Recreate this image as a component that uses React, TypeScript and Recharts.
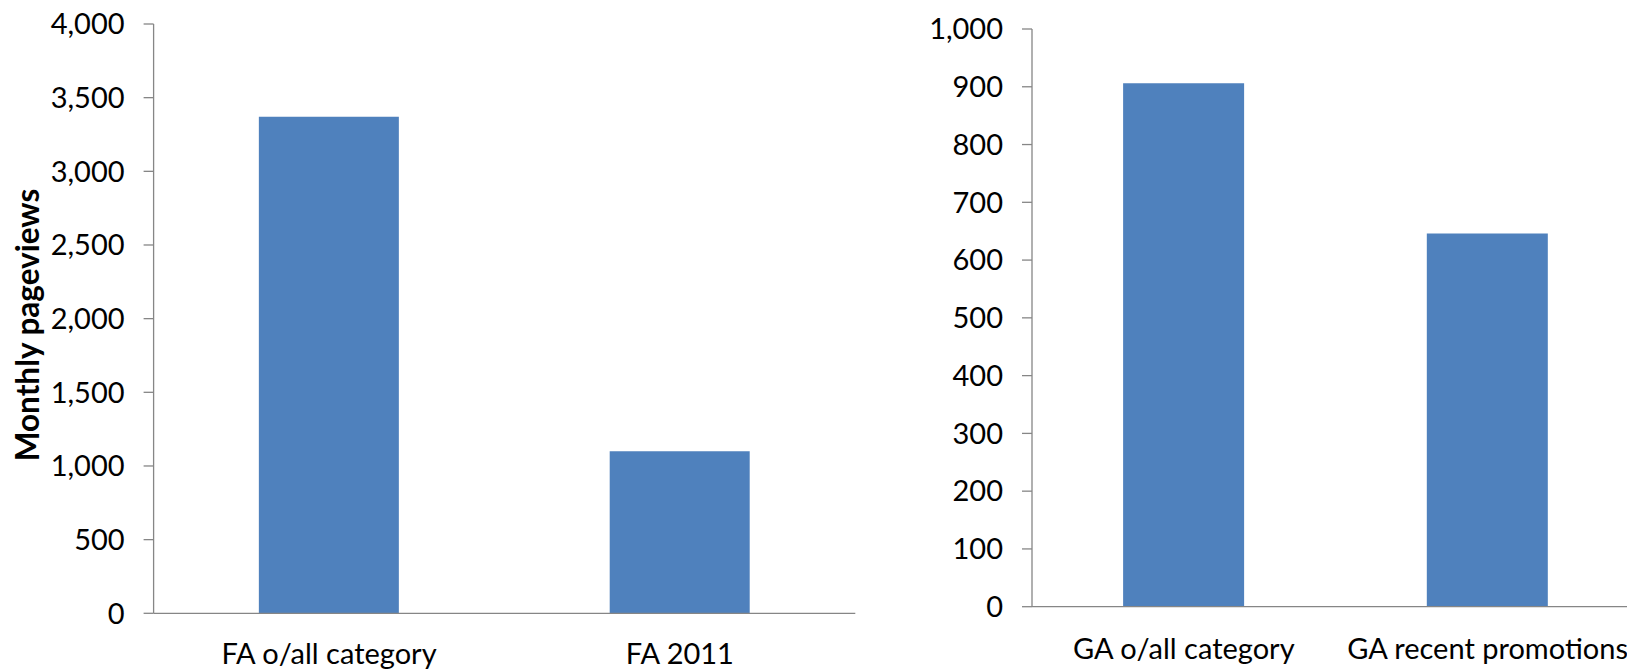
import React from 'react';
import { BarChart, Bar, XAxis, YAxis } from 'recharts';

const leftCategories = ['FA o/all category', 'FA 2011'];
const leftValues = [3370, 1100];
const leftTicks = [0, 500, 1000, 1500, 2000, 2500, 3000, 3500, 4000];

const rightCategories = ['GA o/all category', 'GA recent promotions'];
const rightValues = [906, 646];
const rightTicks = [0, 100, 200, 300, 400, 500, 600, 700, 800, 900, 1000];

const yAxisTitle = 'Monthly pageviews';
const boundaryTicks = [0, 1, 2];

const leftData = leftCategories.map((name, i) => ({ name, value: leftValues[i], slot: i + 0.5 }));
const rightData = rightCategories.map((name, i) => ({ name, value: rightValues[i], slot: i + 0.5 }));

const FONT = 'Lato, "DejaVu Sans", sans-serif';
const FS = 29;
const AXIS = '#868686';
const BAR = '#4F81BD';

const fmt = (v: number) => v.toLocaleString('en-US');

function Panel(props: {
  data: { name: string; value: number; slot: number }[];
  ticks: number[];
  width: number;
  margin: { top: number; right: number; bottom: number; left: number };
  yWidth: number;
  labelGap: number;
}) {
  const { data, ticks, width, margin, yWidth, labelGap } = props;
  return (
    <BarChart width={width} height={670} data={data} margin={margin} barCategoryGap="30%">
      <XAxis
        xAxisId="bounds"
        dataKey="slot"
        type="number"
        domain={[0, 2]}
        allowDataOverflow
        ticks={boundaryTicks}
        interval={0}
        height={1}
        tick={false}
        tickSize={10}
        axisLine={{ stroke: AXIS, strokeWidth: 1.3 }}
        tickLine={{ stroke: AXIS, strokeWidth: 1.3 }}
      />
      <XAxis
        xAxisId="cat"
        dataKey="name"
        type="category"
        height={1}
        axisLine={false}
        tickLine={false}
        tickSize={0}
        tickMargin={labelGap}
        interval={0}
        tick={{ fill: '#000', fontSize: FS, fontFamily: FONT }}
      />
      <YAxis
        type="number"
        domain={[ticks[0], ticks[ticks.length - 1]]}
        ticks={ticks}
        interval={0}
        width={yWidth}
        tickSize={10}
        tickMargin={19}
        tickFormatter={fmt}
        axisLine={{ stroke: AXIS, strokeWidth: 1.3 }}
        tickLine={{ stroke: AXIS, strokeWidth: 1.3 }}
        tick={{ fill: '#000', fontSize: FS, fontFamily: FONT }}
      />
      <Bar xAxisId="cat" dataKey="value" fill={BAR} isAnimationActive={false} />
    </BarChart>
  );
}

export default function App() {
  return (
    <div
      style={{
        position: 'absolute',
        left: 0,
        top: 0,
        width: 1627,
        height: 670,
        overflow: 'hidden',
        background: '#fff',
        fontFamily: FONT,
      }}
    >
      <div style={{ position: 'absolute', left: 0, top: 0 }}>
        <Panel
          data={leftData}
          ticks={leftTicks}
          width={880}
          yWidth={153.6}
          labelGap={29}
          margin={{ top: 24, right: 24.7, bottom: 54.7, left: 0 }}
        />
      </div>
      <div style={{ position: 'absolute', left: 880, top: 0 }}>
        <Panel
          data={rightData}
          ticks={rightTicks}
          width={760}
          yWidth={152}
          labelGap={31}
          margin={{ top: 29, right: 0.6, bottom: 61.3, left: 0 }}
        />
      </div>
      <div
        style={{
          position: 'absolute',
          left: 28,
          top: 325,
          transform: 'translate(-50%, -50%) rotate(-90deg)',
          whiteSpace: 'nowrap',
          fontFamily: FONT,
          fontWeight: 700,
          fontSize: 31.5,
          color: '#000',
          lineHeight: 1,
        }}
      >
        {yAxisTitle}
      </div>
    </div>
  );
}
